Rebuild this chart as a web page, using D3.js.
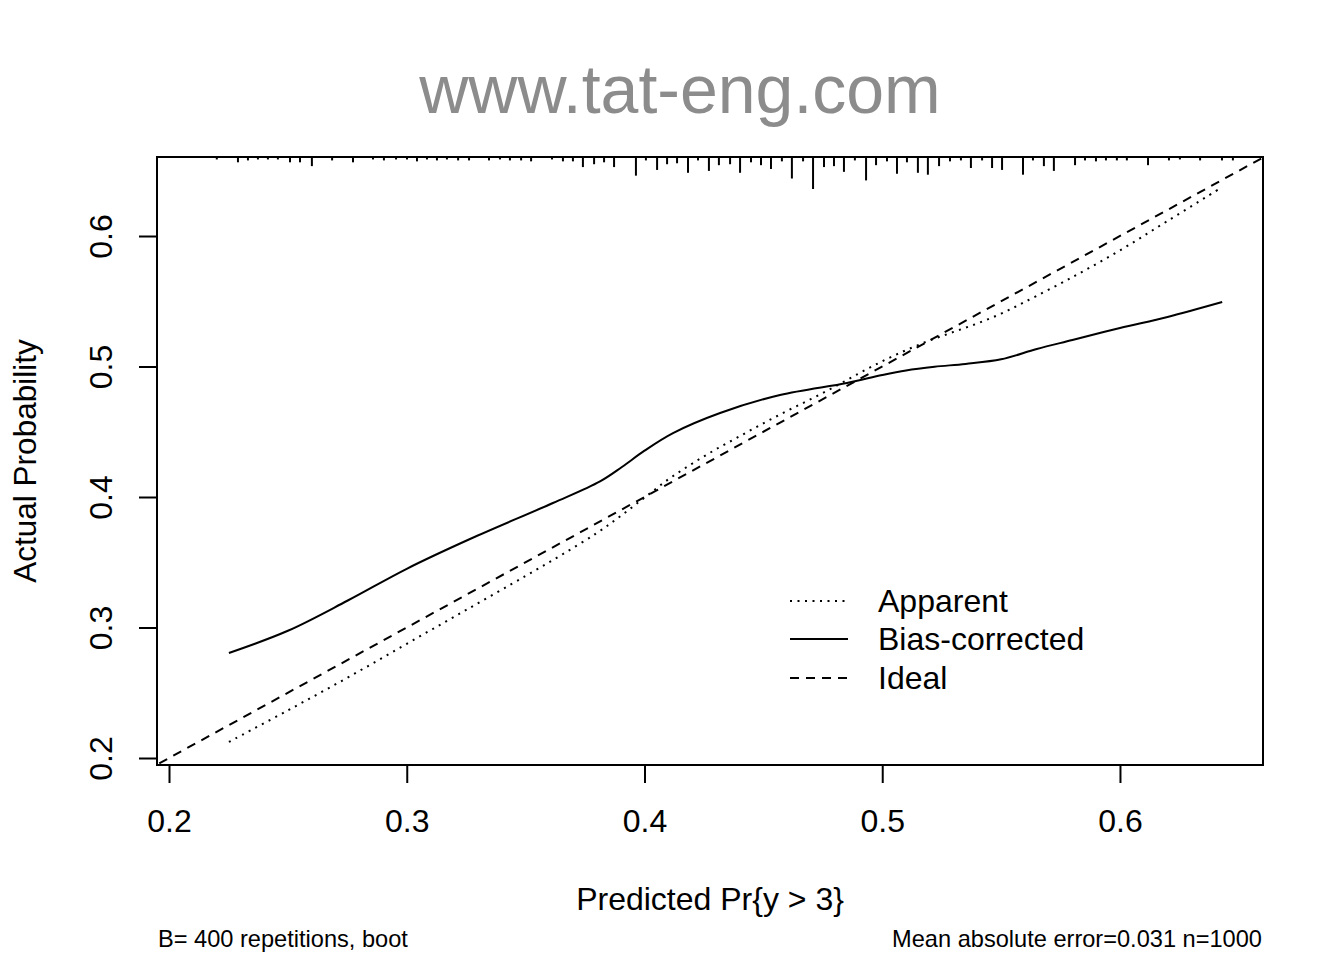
<!DOCTYPE html>
<html>
<head>
<meta charset="utf-8">
<script src="https://cdn.jsdelivr.net/npm/d3@7/dist/d3.min.js"></script>
<style>
  html, body { margin: 0; padding: 0; background: #fff; }
  svg text { font-family: "Liberation Sans", Arial, Helvetica, sans-serif; }
</style>
</head>
<body>
<svg id="chart" width="1344" height="960"></svg>
<script>
// ---- data ----
const titleText = "www.tat-eng.com";
const xLabel = "Predicted Pr{y > 3}";
const yLabel = "Actual Probability";
const footLeft = "B= 400 repetitions, boot";
const footRight = "Mean absolute error=0.031 n=1000";
const xTicks = [0.2, 0.3, 0.4, 0.5, 0.6];
const yTicks = [0.2, 0.3, 0.4, 0.5, 0.6];
const legendLabels = ["Apparent", "Bias-corrected", "Ideal"];

const apparentX = [0.2252, 0.25, 0.275, 0.30, 0.325, 0.35, 0.365, 0.38, 0.39, 0.40, 0.41, 0.42, 0.43, 0.44, 0.45, 0.46, 0.47, 0.48, 0.49, 0.50, 0.51, 0.52, 0.53, 0.54, 0.55, 0.56, 0.58, 0.60, 0.62, 0.643];
const apparentY = [0.2123, 0.2365, 0.2615, 0.2875, 0.3135, 0.3395, 0.3555, 0.3725, 0.3855, 0.3995, 0.4135, 0.4255, 0.4365, 0.4465, 0.4565, 0.4660, 0.4750, 0.4845, 0.4945, 0.5040, 0.5125, 0.5200, 0.5265, 0.5330, 0.5405, 0.5495, 0.5685, 0.5890, 0.6115, 0.6375];

const biasX = [0.2252, 0.25, 0.275, 0.30, 0.3266, 0.3615, 0.3813, 0.3905, 0.40, 0.412, 0.4318, 0.457, 0.4852, 0.50, 0.51, 0.522, 0.535, 0.55, 0.565, 0.58, 0.60, 0.62, 0.643];
const biasY = [0.2805, 0.2975, 0.3205, 0.3450, 0.3678, 0.3954, 0.4120, 0.4230, 0.4355, 0.4490, 0.4644, 0.4782, 0.4874, 0.4935, 0.4970, 0.4998, 0.5020, 0.5055, 0.5134, 0.5203, 0.5295, 0.5380, 0.5494];

const rugX = [0.2201, 0.2290, 0.2332, 0.2374, 0.2416, 0.2458, 0.2509, 0.2551, 0.2601, 0.2686, 0.2774, 0.2858, 0.2904, 0.2955, 0.3001, 0.3043, 0.3085, 0.3127, 0.3169, 0.3216, 0.3262, 0.3346, 0.3392, 0.3434, 0.3481, 0.3523, 0.3611, 0.3657, 0.3699, 0.3741, 0.3788, 0.3830, 0.3872, 0.3964, 0.4006, 0.4053, 0.4095, 0.4137, 0.4183, 0.4225, 0.4271, 0.4313, 0.4360, 0.4402, 0.4448, 0.4490, 0.4532, 0.4578, 0.4620, 0.4667, 0.4709, 0.4755, 0.4797, 0.4839, 0.4885, 0.4932, 0.4974, 0.5020, 0.5062, 0.5104, 0.5150, 0.5192, 0.5239, 0.5285, 0.5331, 0.5373, 0.5420, 0.5462, 0.5504, 0.5592, 0.5634, 0.5680, 0.5722, 0.5811, 0.5853, 0.5899, 0.5941, 0.5987, 0.6029, 0.6118, 0.6206, 0.6252, 0.6337, 0.6429, 0.6475];
const rugFreq = [1, 4, 2, 1, 1, 1, 4, 4, 8, 2, 4, 1, 2, 1, 1, 3, 1, 2, 1, 2, 2, 2, 1, 2, 2, 3, 1, 3, 3, 9, 6, 4, 9, 18, 2, 12, 6, 5, 15, 2, 13, 7, 6, 15, 4, 7, 11, 3, 21, 3, 32, 9, 8, 14, 2, 23, 7, 3, 16, 4, 15, 17, 8, 3, 2, 10, 2, 10, 12, 17, 2, 8, 13, 7, 2, 3, 2, 2, 2, 7, 2, 1, 2, 2, 2];

// ---- layout ----
const svg = d3.select("#chart");
const pLeft = 157, pRight = 1263, pTop = 157, pBottom = 765;
const x = d3.scaleLinear().domain([0.19495, 0.66016]).range([pLeft, pRight]);
const y = d3.scaleLinear().domain([0.19464, 0.66054]).range([pBottom, pTop]);
const FONT = "Liberation Sans, Arial, sans-serif";

svg.append("defs").append("clipPath").attr("id", "clip")
  .append("rect").attr("x", pLeft).attr("y", pTop).attr("width", pRight - pLeft).attr("height", pBottom - pTop);

// title
svg.append("text").attr("x", 680).attr("y", 113).attr("text-anchor", "middle")
  .attr("font-size", 68).attr("fill", "#8c8c8c").text(titleText);

// ideal line
svg.append("line").attr("clip-path", "url(#clip)")
  .attr("x1", x(0.19)).attr("y1", y(0.19)).attr("x2", x(0.67)).attr("y2", y(0.67))
  .attr("stroke", "#000").attr("stroke-width", 2).attr("stroke-dasharray", "9,7");

const line = d3.line().x(d => x(d[0])).y(d => y(d[1])).curve(d3.curveCatmullRom.alpha(0.5));

svg.append("path").datum(apparentX.map((v, i) => [v, apparentY[i]]))
  .attr("d", line).attr("fill", "none").attr("stroke", "#000").attr("stroke-width", 2)
  .attr("stroke-dasharray", "2,5.5");

svg.append("path").datum(biasX.map((v, i) => [v, biasY[i]]))
  .attr("d", line).attr("fill", "none").attr("stroke", "#000").attr("stroke-width", 2);

// rug along top
const rugLen = d3.scaleLinear().domain([0, 32]).range([1.5, 32]);
svg.append("g").selectAll("line").data(rugX).join("line")
  .attr("x1", d => x(d)).attr("x2", d => x(d))
  .attr("y1", pTop).attr("y2", (d, i) => pTop + rugLen(rugFreq[i]))
  .attr("stroke", "#000").attr("stroke-width", 2);

// box
svg.append("rect").attr("x", pLeft).attr("y", pTop).attr("width", pRight - pLeft).attr("height", pBottom - pTop)
  .attr("fill", "none").attr("stroke", "#000").attr("stroke-width", 2);

// x axis
const gx = svg.append("g").attr("transform", `translate(0,${pBottom})`)
  .call(d3.axisBottom(x).tickValues(xTicks).tickSize(18).tickPadding(26).tickFormat(d3.format(".1f")));
gx.select(".domain").attr("d", `M${x(xTicks[0])},0H${x(xTicks[xTicks.length - 1])}`).attr("stroke-width", 2);
gx.selectAll(".tick line").attr("stroke-width", 2);
gx.selectAll(".tick text").attr("font-size", 32).attr("fill", "#000").attr("font-family", FONT);

// y axis
const gy = svg.append("g").attr("transform", `translate(${pLeft},0)`)
  .call(d3.axisLeft(y).tickValues(yTicks).tickSize(18).tickFormat(d3.format(".1f")));
gy.select(".domain").attr("d", `M0,${y(yTicks[0])}V${y(yTicks[yTicks.length - 1])}`).attr("stroke-width", 2);
gy.selectAll(".tick line").attr("stroke-width", 2);
gy.selectAll(".tick text")
  .attr("font-size", 32).attr("fill", "#000").attr("font-family", FONT)
  .attr("text-anchor", "middle").attr("dy", null).attr("x", null)
  .attr("transform", "translate(-45,0) rotate(-90)");

// axis labels
svg.append("text").attr("x", 710).attr("y", 910).attr("text-anchor", "middle")
  .attr("font-size", 32).text(xLabel);
svg.append("text").attr("transform", `translate(36,${(pTop + pBottom) / 2}) rotate(-90)`)
  .attr("text-anchor", "middle").attr("font-size", 31.5).text(yLabel);

// footnotes
svg.append("text").attr("x", 158).attr("y", 947).attr("font-size", 23.6).text(footLeft);
svg.append("text").attr("x", 1262).attr("y", 947).attr("text-anchor", "end").attr("font-size", 23.6).text(footRight);

// legend
const legY = [601, 639, 678];
const dashes = ["2,5.5", null, "9,7"];
const lg = svg.append("g");
legendLabels.forEach((lab, i) => {
  lg.append("line").attr("x1", 790).attr("x2", 848).attr("y1", legY[i]).attr("y2", legY[i])
    .attr("stroke", "#000").attr("stroke-width", 2).attr("stroke-dasharray", dashes[i]);
  lg.append("text").attr("x", 878).attr("y", legY[i] + 11).attr("font-size", 32).text(lab);
});
</script>
</body>
</html>
